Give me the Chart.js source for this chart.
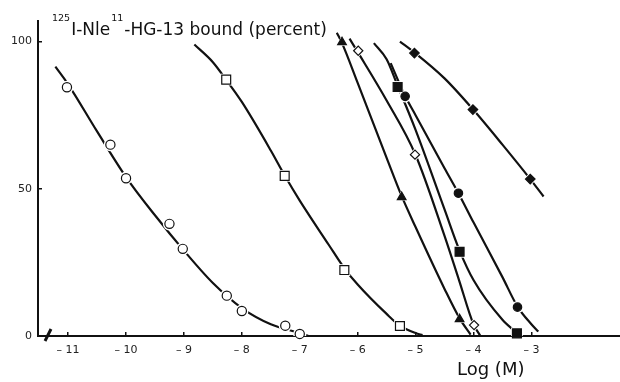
<!DOCTYPE html>
<html>
<head>
<meta charset="utf-8">
<script src="https://cdn.jsdelivr.net/npm/chart.js@4.4.0/dist/chart.umd.min.js"></script>
<style>
  html, body { margin: 0; padding: 0; background: #fff; }
  canvas { display: block; }
</style>
</head>
<body>
<canvas id="grafico" width="620" height="382"></canvas>
<script>
// ticks
const ticksX = [-11, -10, -9, -8, -7, -6, -5, -4, -3];
const ticksY = [0, 50, 100];

// puntos medidos (log M, % bound)
const circAbiertoX = [-11.02, -10.27, -10.0, -9.25, -9.02, -8.26, -8.0, -7.25, -7.0];
const circAbiertoY = [84.5, 65.0, 53.6, 38.1, 29.6, 13.7, 8.5, 3.5, 0.7];
const cuadAbiertoX = [-8.27, -7.26, -6.23, -5.27];
const cuadAbiertoY = [87.1, 54.4, 22.4, 3.4];
const trianguloX = [-6.27, -5.24, -4.24];
const trianguloY = [99.8, 47.2, 5.7];
const rombAbiertoX = [-5.99, -5.01, -3.99];
const rombAbiertoY = [96.9, 61.6, 3.7];
const cuadLlenoX = [-5.31, -4.24, -3.25];
const cuadLlenoY = [84.6, 28.6, 0.9];
const circLlenoX = [-5.18, -4.26, -3.24];
const circLlenoY = [81.4, 48.5, 9.8];
const rombLlenoX = [-5.02, -4.01, -3.02];
const rombLlenoY = [96.1, 76.9, 53.3];

// curvas dibujadas a mano
const curvaCircAbiertoX = [-11.22, -11.0, -10.5, -10.0, -9.5, -9.0, -8.5, -8.0, -7.5, -7.0, -6.85];
const curvaCircAbiertoY = [91.5, 85.5, 69.5, 54, 41, 29, 18, 9.5, 4, 1, 0];
const curvaCuadAbiertoX = [-8.82, -8.5, -8.27, -8.0, -7.5, -7.26, -7.0, -6.5, -6.23, -6.0, -5.5, -5.27, -5.0, -4.88];
const curvaCuadAbiertoY = [99, 93, 87, 79.5, 63, 54.5, 46, 31, 23, 17.5, 7.5, 3.5, 1, 0.3];
const curvaTrianguloX = [-6.36, -6.27, -6.0, -5.5, -5.24, -5.0, -4.5, -4.24, -4.05];
const curvaTrianguloY = [103, 99.5, 86, 60.5, 47.5, 37, 16, 6, 0.5];
const curvaRombAbiertoX = [-6.14, -6.0, -5.5, -5.0, -4.5, -4.25, -4.0, -3.88];
const curvaRombAbiertoY = [101, 96.5, 80, 61.5, 34, 19, 4, 0];
const curvaCuadLlenoX = [-5.72, -5.5, -5.31, -5.0, -4.5, -4.24, -4.0, -3.5, -3.25];
const curvaCuadLlenoY = [99.5, 94, 85, 70, 43, 29, 19, 5.5, 1];
const curvaCircLlenoX = [-5.43, -5.18, -5.0, -4.5, -4.26, -4.0, -3.5, -3.24, -3.0, -2.88];
const curvaCircLlenoY = [92.7, 81.5, 75, 57, 48.5, 38.6, 20, 10, 4, 1.5];
const curvaRombLlenoX = [-5.27, -5.02, -4.5, -4.01, -3.5, -3.02, -2.79];
const curvaRombLlenoY = [100, 96.3, 87.5, 77, 65, 53.3, 47.4];

// titulo del eje y: [texto, tamaño, linea base]
const tituloPartes = [['125', 9.5, 21], ['I-Nle', 17, 35], ['11', 9.5, 21], ['-HG-13 bound (percent)', 17, 35]];

const NEGRO = '#111';
const puntos = (xs, ys) => xs.map((x, i) => ({ x, y: ys[i] }));

const series = [
  { cx: curvaCircAbiertoX, cy: curvaCircAbiertoY, px: circAbiertoX, py: circAbiertoY, estilo: 'circle', radio: 4.6, relleno: '#fff' },
  { cx: curvaCuadAbiertoX, cy: curvaCuadAbiertoY, px: cuadAbiertoX, py: cuadAbiertoY, estilo: 'rect', radio: 6.3, relleno: '#fff' },
  { cx: curvaTrianguloX, cy: curvaTrianguloY, px: trianguloX, py: trianguloY, estilo: 'triangle', radio: 5, relleno: NEGRO },
  { cx: curvaRombAbiertoX, cy: curvaRombAbiertoY, px: rombAbiertoX, py: rombAbiertoY, estilo: 'rectRot', radio: 4.6, relleno: '#fff' },
  { cx: curvaCuadLlenoX, cy: curvaCuadLlenoY, px: cuadLlenoX, py: cuadLlenoY, estilo: 'rect', radio: 6.3, relleno: NEGRO },
  { cx: curvaCircLlenoX, cy: curvaCircLlenoY, px: circLlenoX, py: circLlenoY, estilo: 'circle', radio: 4.2, relleno: NEGRO },
  { cx: curvaRombLlenoX, cy: curvaRombLlenoY, px: rombLlenoX, py: rombLlenoY, estilo: 'rectRot', radio: 4.8, relleno: NEGRO }
];

const datasets = [];
series.forEach(s => {
  datasets.push({
    data: puntos(s.cx, s.cy),
    showLine: true,
    pointRadius: 0,
    borderColor: NEGRO,
    borderWidth: 2.2,
    cubicInterpolationMode: 'monotone',
    order: 3
  });
  // halo blanco: corta la linea junto a los marcadores
  datasets.push({
    data: puntos(s.px, s.py),
    showLine: false,
    pointStyle: s.estilo,
    pointRadius: s.radio + 2,
    pointBackgroundColor: '#fff',
    pointBorderColor: '#fff',
    pointBorderWidth: 0,
    order: 2
  });
  datasets.push({
    data: puntos(s.px, s.py),
    showLine: false,
    pointStyle: s.estilo,
    pointRadius: s.radio,
    pointBackgroundColor: s.relleno,
    pointBorderColor: NEGRO,
    pointBorderWidth: 1.2,
    clip: false,
    order: 1
  });
});

const textos = {
  id: 'textos',
  afterDraw(chart) {
    const c = chart.ctx;
    c.save();
    c.fillStyle = NEGRO;
    c.textBaseline = 'alphabetic';
    c.textAlign = 'left';
    let x = 52;
    tituloPartes.forEach(([txt, tam, base]) => {
      c.font = `${tam}px "DejaVu Sans"`;
      c.fillText(txt, x, base);
      x += c.measureText(txt).width + 1;
    });
    c.font = '18px "DejaVu Sans"';
    c.fillText('Log (M)', 457, 375);
    // corte del eje x
    c.strokeStyle = NEGRO;
    c.lineWidth = 3;
    c.beginPath();
    c.moveTo(45, 341);
    c.lineTo(51, 329);
    c.stroke();
    c.restore();
  }
};

const fuenteTicks = { family: 'DejaVu Sans', size: 11 };

new Chart(document.getElementById('grafico').getContext('2d'), {
  type: 'scatter',
  data: { datasets },
  options: {
    responsive: false,
    animation: false,
    events: [],
    layout: { autoPadding: false, padding: { top: 21, left: 0, right: 0, bottom: 0 } },
    plugins: { legend: { display: false }, tooltip: { enabled: false } },
    scales: {
      x: {
        type: 'linear',
        min: -11.52,
        max: -1.47,
        z: 1,
        afterBuildTicks: escala => { escala.ticks = ticksX.map(v => ({ value: v })); },
        afterFit: escala => { escala.height = 46; },
        grid: { drawOnChartArea: false, tickLength: -4, color: NEGRO, lineWidth: 1.5 },
        border: { color: NEGRO, width: 2 },
        ticks: {
          color: '#222',
          font: fuenteTicks,
          padding: 12,
          maxRotation: 0,
          autoSkip: false,
          callback: v => '– ' + Math.abs(v)
        }
      },
      y: {
        min: 0,
        max: 107,
        z: 1,
        afterBuildTicks: escala => { escala.ticks = ticksY.map(v => ({ value: v })); },
        afterFit: escala => { escala.width = 38; },
        grid: { drawOnChartArea: false, tickLength: -4, color: NEGRO, lineWidth: 1.5 },
        border: { color: NEGRO, width: 2 },
        ticks: { color: '#222', font: fuenteTicks, padding: 10 }
      }
    }
  },
  plugins: [textos]
});
</script>
</body>
</html>
